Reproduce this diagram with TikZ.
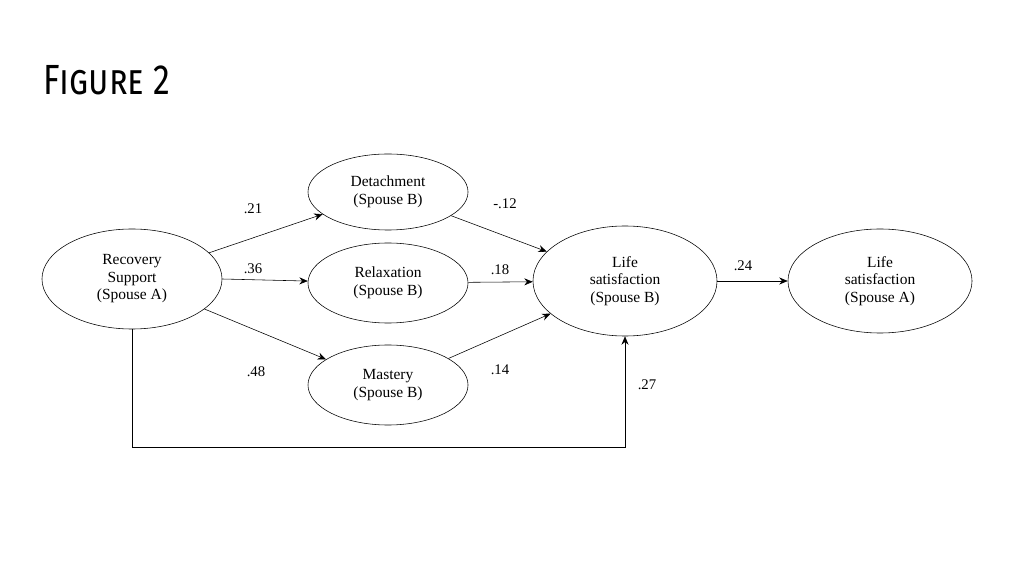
\documentclass[tikz,border=0pt]{standalone}
\usepackage{fontspec}
\setmainfont{Liberation Serif}
\newfontfamily\titlefont{Fira Sans}
\usetikzlibrary{shapes.geometric,arrows.meta}
\tikzset{
  var/.style={draw,ellipse,thin,align=center,font=\fontsize{11}{12.5}\selectfont},
  path/.style={-{Stealth[length=6pt,width=5pt]},thin},
  coef/.style={font=\fontsize{10.5}{12}\selectfont}
}
\begin{document}
\begin{tikzpicture}[x=0.025cm,y=-0.025cm]
\useasboundingbox (0,0) rectangle (1024,576);
\node[anchor=west,font=\titlefont\fontsize{30}{32}\selectfont\scshape,xscale=0.8] (title) at (40,80) {Figure 2};
% the five ellipses
\node[var,minimum width=180\pgflinewidth*0+4.5cm,minimum height=2.5cm] (rec) at (132,279) {Recovery\\Support\\(Spouse A)};
\node[var,minimum width=4cm,minimum height=1.9cm] (det) at (388,192) {Detachment\\(Spouse B)};
\node[var,minimum width=4cm,minimum height=2cm] (rel) at (388,283) {Relaxation\\(Spouse B)};
\node[var,minimum width=4cm,minimum height=2cm] (mas) at (388,385) {Mastery\\(Spouse B)};
\node[var,minimum width=4.6cm,minimum height=2.75cm] (lsb) at (625,281) {Life\\satisfaction\\(Spouse B)};
\node[var,minimum width=4.6cm,minimum height=2.6cm] (lsa) at (880,281) {Life\\satisfaction\\(Spouse A)};
% paths
\draw[path] (rec) -- (det);
\draw[path] (rec.east) -- (rel);
\draw[path] (rec) -- (mas);
\draw[path] (det) -- (lsb);
\draw[path] (rel) -- (lsb);
\draw[path] (mas) -- (lsb);
\draw[path] (lsb) -- (lsa);
\draw[path] (rec.south) -- (132,447) -| (lsb.south);
% coefficients
\node[coef] (c1) at (253,209) {.21};
\node[coef] (c2) at (253,269) {.36};
\node[coef] (c3) at (256,372) {.48};
\node[coef] (c4) at (505,204) {-.12};
\node[coef] (c5) at (500,270) {.18};
\node[coef] (c6) at (500,370) {.14};
\node[coef] (c7) at (743,266) {.24};
\node[coef] (c8) at (647,385) {.27};
\end{tikzpicture}
\end{document}
